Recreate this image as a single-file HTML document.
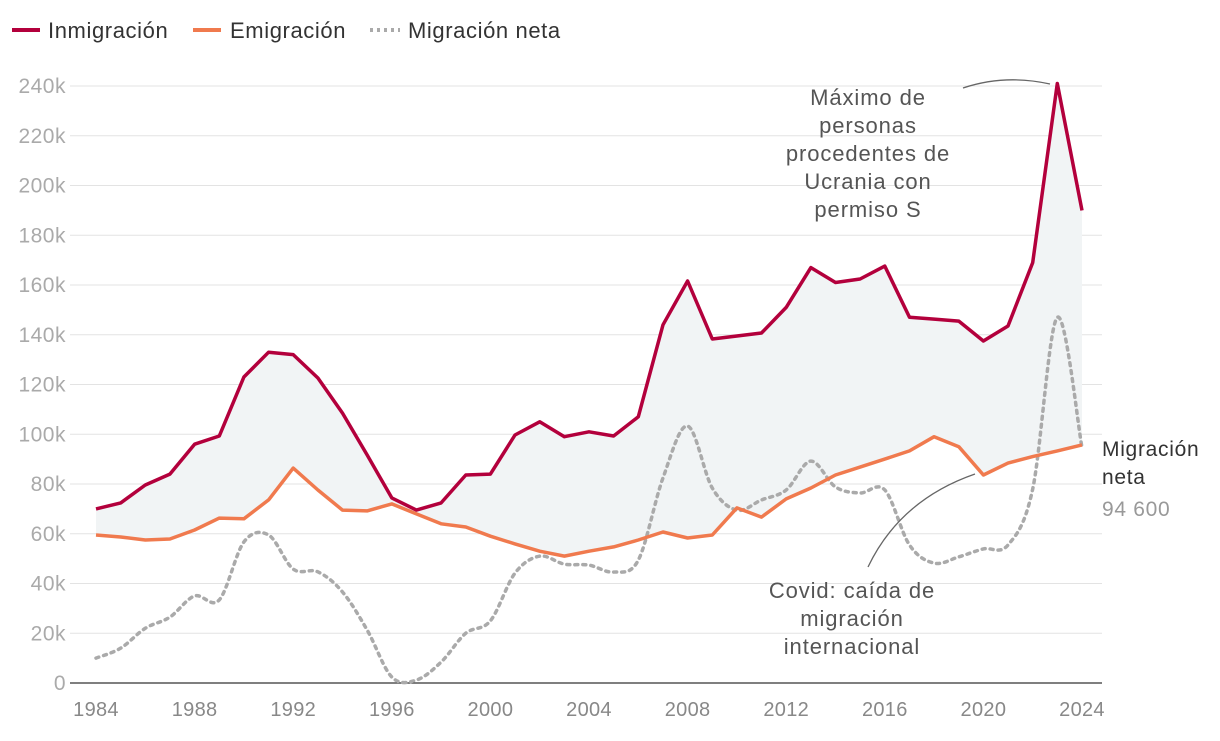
<!DOCTYPE html>
<html><head><meta charset="utf-8">
<style>
body{margin:0;background:#fff;width:1220px;height:736px;overflow:hidden;font-family:"Liberation Sans",sans-serif}
svg text{font-family:"Liberation Sans",sans-serif}
</style></head>
<body>
<svg id="chart" width="1220" height="736">
<g id="legend" letter-spacing="0.6">
 <g><line x1="12" y1="30" x2="40" y2="30" stroke="#b3003c" stroke-width="4"/><text x="48" y="38" font-size="22" fill="#333">Inmigración</text></g>
 <g><line x1="193" y1="30" x2="221" y2="30" stroke="#f07a4e" stroke-width="4"/><text x="230" y="38" font-size="22" fill="#333">Emigración</text></g>
 <g><line x1="370" y1="30" x2="400" y2="30" stroke="#aaa" stroke-width="4" stroke-dasharray="3 4"/><text x="408" y="38" font-size="22" fill="#333">Migración neta</text></g>
</g>
<g id="grid"></g><g id="area"></g><g id="lines"></g><g id="axes"></g>
<g font-size="22" letter-spacing="0.9" fill="#555" text-anchor="middle">
 <text x="868" y="105">Máximo de</text><text x="868" y="133">personas</text><text x="868" y="161">procedentes de</text><text x="868" y="189">Ucrania con</text><text x="868" y="217">permiso S</text>
 <path d="M963,88 Q1005,74 1050,84" fill="none" stroke="#666" stroke-width="1.3"/>
</g>
<g font-size="22" letter-spacing="0.9" fill="#555" text-anchor="middle">
 <text x="852" y="598">Covid: caída de</text><text x="852" y="626">migración</text><text x="852" y="654">internacional</text>
 <path d="M868,567 Q900,500 975,474" fill="none" stroke="#666" stroke-width="1.3"/>
</g>
<g font-size="21" letter-spacing="0.7">
 <text x="1102" y="456" fill="#333">Migración</text><text x="1102" y="484" fill="#333">neta</text><text x="1102" y="516" fill="#999">94 600</text>
</g>
</svg>
<script>
const years=[1984,1985,1986,1987,1988,1989,1990,1991,1992,1993,1994,1995,1996,1997,1998,1999,2000,2001,2002,2003,2004,2005,2006,2007,2008,2009,2010,2011,2012,2013,2014,2015,2016,2017,2018,2019,2020,2021,2022,2023,2024];
const inmigracion=[70,72.4,79.6,84,96,99.3,123,133,132,122.6,108.5,91.7,74.4,69.5,72.4,83.6,84,99.7,105,99,101,99.3,107,144,161.6,138.3,139.5,140.7,151,167,161,162.4,167.6,147,146.3,145.5,137.5,143.5,169,241,190];
const emigracion=[59.5,58.7,57.5,57.9,61.5,66.3,66,73.6,86.4,77.6,69.5,69.2,72,68,64,62.7,59,55.9,53,51,53,54.7,57.5,60.7,58.3,59.5,70.4,66.7,74,78.4,83.6,86.8,90,93.3,99,95,83.6,88.4,91,93.3,95.7];
const neta=[10,14,22,26.5,35,33.4,56.7,59.5,45.8,44.7,36.6,21.3,2.4,1.2,8.4,20,25,44.2,51,47.8,47.4,44.6,49.4,82.4,103.3,78.4,69.5,73.6,77.6,89.2,78.8,76.4,77.6,55.5,48.2,50.7,53.9,55.5,78,147,94.6];
const yTicks=[0,20,40,60,80,100,120,140,160,180,200,220,240];
const xTicks=[1984,1988,1992,1996,2000,2004,2008,2012,2016,2020,2024];
const NS="http://www.w3.org/2000/svg";
const x=v=>96+(v-1984)*(1082-96)/40;
const y=v=>683-v*(683-86)/240;
function mk(t,a,p){const e=document.createElementNS(NS,t);for(const k in a)e.setAttribute(k,a[k]);p.appendChild(e);return e;}
const grid=document.getElementById('grid'),axes=document.getElementById('axes');
yTicks.forEach(v=>{
 const l=mk('line',{x1:70,x2:1102,y1:y(v),y2:y(v),stroke:v===0?'#333':'#e3e3e3','stroke-width':v===0?1.3:1},grid);
 
 
 const t=mk('text',{x:66,y:y(v)+7,'text-anchor':'end','font-size':21,'letter-spacing':0.5,fill:'#aaa'},axes);t.textContent=v+(v?'k':'');
 
 
});
xTicks.forEach(v=>{
 const t=mk('text',{x:x(v),y:716,'text-anchor':'middle','font-size':20,'letter-spacing':0.3,fill:'#888'},axes);t.textContent=v;
 
 
});
const pts=a=>a.map((v,i)=>[x(years[i]),y(v)]);
const lin=p=>p.map((q,i)=>(i?'L':'M')+q[0].toFixed(1)+','+q[1].toFixed(1)).join('');
function smooth(p){let d='M'+p[0][0]+','+p[0][1];for(let i=0;i<p.length-1;i++){const p0=p[i-1]||p[i],p1=p[i],p2=p[i+1],p3=p[i+2]||p2;
 d+='C'+(p1[0]+(p2[0]-p0[0])/6)+','+(p1[1]+(p2[1]-p0[1])/6)+' '+(p2[0]-(p3[0]-p1[0])/6)+','+(p2[1]-(p3[1]-p1[1])/6)+' '+p2[0]+','+p2[1];}return d;}
const ip=pts(inmigracion),ep=pts(emigracion);
const area=mk('path',{d:lin(ip)+lin(ep.slice().reverse()).replace('M','L')+'Z',fill:'#f1f4f5'},document.getElementById('area'));


const L=document.getElementById('lines');
const n=mk('path',{d:smooth(pts(neta)),fill:'none',stroke:'#aaa','stroke-width':3.5,'stroke-dasharray':'3 5','stroke-linecap':'round'},L);


const e=mk('path',{d:lin(ep),fill:'none',stroke:'#f07a4e','stroke-width':3.5,'stroke-linejoin':'round'},L);


const im=mk('path',{d:lin(ip),fill:'none',stroke:'#b3003c','stroke-width':3.5,'stroke-linejoin':'round'},L);


</script>
</body></html>
